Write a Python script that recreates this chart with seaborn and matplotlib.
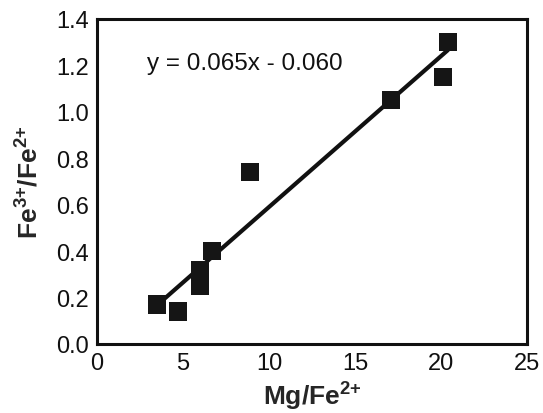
import matplotlib
matplotlib.use("Agg")
import matplotlib.pyplot as plt
import seaborn as sns
import numpy as np
import pandas as pd

mg_fe2 = [3.5, 4.7, 6.0, 6.0, 6.7, 8.9, 17.1, 20.1, 20.4]
fe3_fe2 = [0.17, 0.14, 0.32, 0.25, 0.40, 0.74, 1.05, 1.15, 1.30]
slope = 0.065
intercept = -0.060
xticks = [0, 5, 10, 15, 20, 25]
yticks = [0.0, 0.2, 0.4, 0.6, 0.8, 1.0, 1.2, 1.4]

sns.set_style("white")
plt.rcParams['font.family'] = ['Liberation Sans', 'DejaVu Sans']
plt.rcParams['mathtext.fontset'] = 'custom'
plt.rcParams['mathtext.rm'] = 'Liberation Sans'
plt.rcParams['mathtext.bf'] = 'Liberation Sans:bold'

df = pd.DataFrame({"x": mg_fe2, "y": fe3_fe2})
fit_x = np.array([min(mg_fe2), max(mg_fe2)])
fit = pd.DataFrame({"x": fit_x, "y": slope * fit_x + intercept})

fig = plt.figure(figsize=(5.43, 4.14), dpi=100)
ax = fig.add_axes([0.1786, 0.1667, 0.7919, 0.785])

sns.lineplot(data=fit, x="x", y="y", ax=ax, color="#111111", linewidth=3.0, zorder=2)
sns.scatterplot(data=df, x="x", y="y", ax=ax, marker="s", s=175, color="#151515",
                edgecolor="none", linewidth=0, zorder=3)

ax.set_xlim(0, 25)
ax.set_ylim(0, 1.4)
ax.set_xticks(xticks)
ax.set_yticks(yticks)
ax.set_xticklabels([str(t) for t in xticks])
ax.set_yticklabels([f"{t:.1f}" for t in yticks])
ax.tick_params(direction="in", length=5, width=2, labelsize=17, colors="#111111", pad=6)
for sp in ax.spines.values():
    sp.set_linewidth(2.2)
    sp.set_color("#111111")
    sp.set_visible(True)

ax.set_xlabel(r"Mg/Fe$^{\mathbf{2}\mathbf{+}}$", fontsize=19, fontweight="bold", labelpad=3)
ax.set_ylabel(r"Fe$^{\mathbf{3}\mathbf{+}}$/Fe$^{\mathbf{2}\mathbf{+}}$", fontsize=19, fontweight="bold", labelpad=10)
ax.text(2.9, 1.21, "y = 0.065x - 0.060", fontsize=17.5, color="#111111", va="center", ha="left")

fig.savefig("out.png", dpi=100)
